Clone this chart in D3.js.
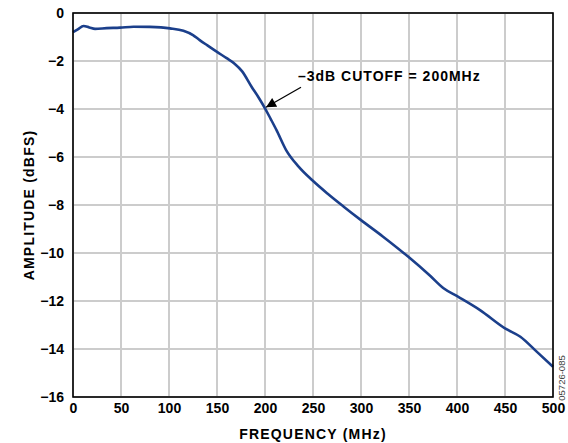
<!doctype html>
<html lang="en">
<head>
<meta charset="UTF-8">
<title>Amplitude vs Frequency</title>
<script src="https://d3js.org/d3.v7.min.js"></script>
<style>
  body { margin: 0; background: #fff; }
  text { font-family: "Liberation Sans", Arial, sans-serif; }
</style>
</head>
<body>
<div id="chart-area"></div>
<script>

const freq = [0, 5, 11, 17, 23, 35, 49, 63, 80, 101, 115, 125, 132, 140, 150, 160, 168, 176, 186, 193,
              200, 206, 212, 222, 235, 249, 265, 282, 300, 323, 349, 372, 386, 401, 424, 450, 466, 483, 500];
const amp  = [-0.80, -0.68, -0.54, -0.60, -0.66, -0.63, -0.61, -0.57, -0.58, -0.64, -0.74, -0.92, -1.13,
              -1.35, -1.62, -1.88, -2.10, -2.42, -3.07, -3.50, -3.97, -4.42, -4.88, -5.71, -6.40, -6.96,
              -7.52, -8.07, -8.63, -9.32, -10.15, -10.95, -11.47, -11.82, -12.38, -13.14, -13.49, -14.11, -14.74];
const xTicks = [0, 50, 100, 150, 200, 250, 300, 350, 400, 450, 500];
const yTicks = [0, -2, -4, -6, -8, -10, -12, -14, -16];
const note = { f: 200, a: -3.97, text: '\u20133dB CUTOFF = 200MHz' };

const W = 568, H = 443;
const margin = { top: 13, right: 15, bottom: 46, left: 73 };
const chartW = W - margin.left - margin.right;
const chartH = H - margin.top - margin.bottom;

const svg = d3.select('#chart-area')
    .append('svg')
    .attr('width', W)
    .attr('height', H);

const g = svg.append('g')
    .attr('transform', `translate(${margin.left},${margin.top})`);

const x = d3.scaleLinear().domain([0, 500]).range([0, chartW]);
const y = d3.scaleLinear().domain([-16, 0]).range([chartH, 0]);

// grid
const grid = g.append('g')
    .attr('stroke', '#cccccc')
    .attr('stroke-width', 1.3)
    .attr('shape-rendering', 'crispEdges');

grid.selectAll('.vx')
    .data(xTicks)
    .join('line')
    .attr('class', 'vx')
    .attr('x1', d => x(d)).attr('x2', d => x(d))
    .attr('y1', 0).attr('y2', chartH);

grid.selectAll('.hy')
    .data(yTicks)
    .join('line')
    .attr('class', 'hy')
    .attr('y1', d => y(d)).attr('y2', d => y(d))
    .attr('x1', 0).attr('x2', chartW);

// axes (labels only, frame drawn separately)
const xAxis = g.append('g')
    .attr('transform', `translate(0,${chartH})`)
    .call(d3.axisBottom(x).tickValues(xTicks).tickSize(0).tickPadding(6));
const yAxis = g.append('g')
    .call(d3.axisLeft(y).tickValues(yTicks).tickSize(0).tickPadding(9));

[xAxis, yAxis].forEach(a => {
    a.select('.domain').remove();
    a.selectAll('text')
        .attr('font-size', 14)
        .attr('font-weight', 'bold')
        .attr('font-family', '"Liberation Sans", Arial, sans-serif')
        .attr('fill', '#000');
});

// curve
const line = d3.line()
    .x((d, i) => x(freq[i]))
    .y(d => y(d))
    .curve(d3.curveMonotoneX);

g.append('path')
    .datum(amp)
    .attr('d', line)
    .attr('fill', 'none')
    .attr('stroke', '#1b3f8b')
    .attr('stroke-width', 2.6)
    .attr('stroke-linejoin', 'round');

// frame
g.append('rect')
    .attr('width', chartW)
    .attr('height', chartH)
    .attr('fill', 'none')
    .attr('stroke', '#000')
    .attr('stroke-width', 1.6);

// annotation
svg.append('defs').append('marker')
    .attr('id', 'arrow')
    .attr('viewBox', '0 0 10 10')
    .attr('refX', 10).attr('refY', 5)
    .attr('markerWidth', 14).attr('markerHeight', 10)
    .attr('markerUnits', 'userSpaceOnUse')
    .attr('orient', 'auto')
    .append('path')
    .attr('d', 'M0,0L10,5L0,10Z')
    .attr('fill', '#000');

g.append('line')
    .attr('x1', x(note.f) + 36).attr('y1', y(note.a) - 21)
    .attr('x2', x(note.f) + 1).attr('y2', y(note.a) - 1)
    .attr('stroke', '#000')
    .attr('stroke-width', 1.3)
    .attr('marker-end', 'url(#arrow)');

g.append('text')
    .attr('x', x(note.f) + 33)
    .attr('y', y(note.a) - 27)
    .attr('font-size', 14)
    .attr('font-weight', 'bold')
    .attr('letter-spacing', 1)
    .text(note.text);

// axis titles
svg.append('text')
    .attr('x', margin.left + chartW / 2)
    .attr('y', 439)
    .attr('text-anchor', 'middle')
    .attr('font-size', 14)
    .attr('font-weight', 'bold')
    .attr('letter-spacing', 1.2)
    .text('FREQUENCY (MHz)');

svg.append('text')
    .attr('transform', `translate(34,${margin.top + chartH / 2}) rotate(-90)`)
    .attr('text-anchor', 'middle')
    .attr('font-size', 14)
    .attr('font-weight', 'bold')
    .attr('letter-spacing', 1.2)
    .text('AMPLITUDE (dBFS)');

svg.append('text')
    .attr('transform', `translate(565,378) rotate(-90)`)
    .attr('text-anchor', 'middle')
    .attr('font-size', 9.5)
    .attr('fill', '#444')
    .text('05726-085');

</script>
</body>
</html>
